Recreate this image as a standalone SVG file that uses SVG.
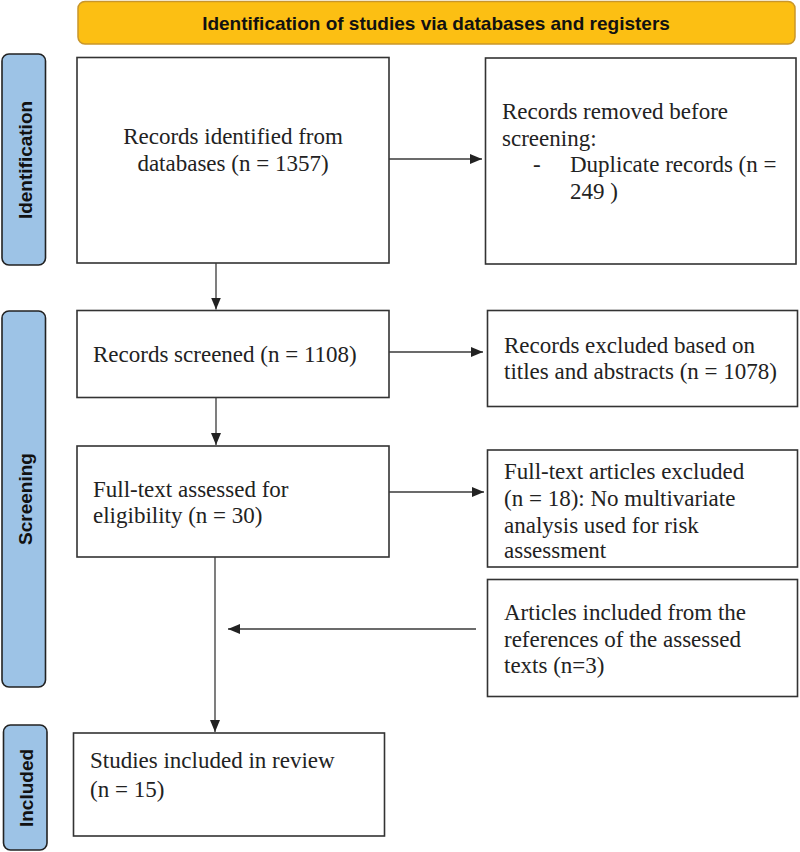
<svg xmlns="http://www.w3.org/2000/svg" width="800" height="852" viewBox="0 0 800 852">
<style>
.box{fill:#fff;stroke:#333;stroke-width:1.6}
.side{fill:#9dc3e6;stroke:#222;stroke-width:1.6}
.t{font-family:"Liberation Serif","Times New Roman",serif;font-size:23px;fill:#222}
.s{font-family:"Liberation Sans",Arial,sans-serif;font-weight:bold;font-size:19px;fill:#111}
.ln{stroke:#3a3a3a;stroke-width:1.3;fill:none}
</style>
<defs>
<marker id="ah" viewBox="0 0 12 10" refX="12" refY="5" markerWidth="12" markerHeight="10" markerUnits="userSpaceOnUse" orient="auto">
<path d="M0,0 L12,5 L0,10 z" fill="#222"/>
</marker>
</defs>
<g id="banner">
<rect x="78" y="1.5" width="717" height="42.5" rx="7" fill="#fcbf13" stroke="#c9962a" stroke-width="1.5"/>
<text class="s" x="436" y="30" text-anchor="middle" font-size="18.5">Identification of studies via databases and registers</text>
</g>
<g id="label-identification">
<rect class="side" x="2" y="54" width="43.5" height="211" rx="7"/>
<text class="s" transform="translate(31.5,160) rotate(-90)" text-anchor="middle">Identification</text>
</g>
<g id="label-screening">
<rect class="side" x="2" y="311" width="43.5" height="376" rx="7"/>
<text class="s" transform="translate(31.5,499) rotate(-90)" text-anchor="middle">Screening</text>
</g>
<g id="label-included">
<rect class="side" x="3.5" y="725" width="43.5" height="125" rx="7"/>
<text class="s" transform="translate(32.5,788) rotate(-90)" text-anchor="middle">Included</text>
</g>
<g id="n-identified">
<rect class="box" x="77" y="57.5" width="312" height="205.5"/>
<text class="t" x="233" y="144" text-anchor="middle">Records identified from</text>
<text class="t" x="233" y="171" text-anchor="middle">databases (n = 1357)</text>
</g>
<g id="n-removed">
<rect class="box" x="485.5" y="58" width="310.5" height="206"/>
<text class="t" x="502" y="119">Records removed before</text>
<text class="t" x="502" y="146">screening:</text>
<text class="t" x="533" y="172">-</text>
<text class="t" x="570" y="172">Duplicate records (n =</text>
<text class="t" x="570" y="199">249 )</text>
</g>
<g id="n-screened">
<rect class="box" x="77" y="310.5" width="312" height="87"/>
<text class="t" x="93" y="362">Records screened (n = 1108)</text>
</g>
<g id="n-excluded">
<rect class="box" x="487.5" y="310.5" width="310" height="96"/>
<text class="t" x="504" y="353">Records excluded based on</text>
<text class="t" x="504" y="379">titles and abstracts (n = 1078)</text>
</g>
<g id="n-fulltext">
<rect class="box" x="77" y="446" width="312" height="111"/>
<text class="t" x="93" y="497">Full-text assessed for</text>
<text class="t" x="93" y="523">eligibility (n = 30)</text>
</g>
<g id="n-ft-excluded">
<rect class="box" x="487.5" y="450" width="310" height="117"/>
<text class="t" x="504" y="479">Full-text articles excluded</text>
<text class="t" x="504" y="506">(n = 18): No multivariate</text>
<text class="t" x="504" y="533">analysis used for risk</text>
<text class="t" x="504" y="558">assessment</text>
</g>
<g id="n-refs">
<rect class="box" x="487.5" y="579.5" width="310" height="117"/>
<text class="t" x="504" y="620">Articles included from the</text>
<text class="t" x="504" y="647">references of the assessed</text>
<text class="t" x="504" y="673">texts (n=3)</text>
</g>
<g id="n-included">
<rect class="box" x="73.5" y="733" width="311" height="103"/>
<text class="t" x="90" y="768">Studies included in review</text>
<text class="t" x="90" y="797">(n = 15)</text>
</g>
<g id="connectors">
<line class="ln" x1="389" y1="159" x2="482" y2="159" marker-end="url(#ah)"/>
<line class="ln" x1="216" y1="263" x2="216" y2="309.5" marker-end="url(#ah)"/>
<line class="ln" x1="389" y1="352" x2="483" y2="352" marker-end="url(#ah)"/>
<line class="ln" x1="216" y1="397.5" x2="216" y2="445" marker-end="url(#ah)"/>
<line class="ln" x1="389" y1="492" x2="484" y2="492" marker-end="url(#ah)"/>
<line class="ln" x1="476" y1="629" x2="228" y2="629" marker-end="url(#ah)"/>
<line class="ln" x1="215" y1="557" x2="215" y2="732" marker-end="url(#ah)"/>
</g>
</svg>
